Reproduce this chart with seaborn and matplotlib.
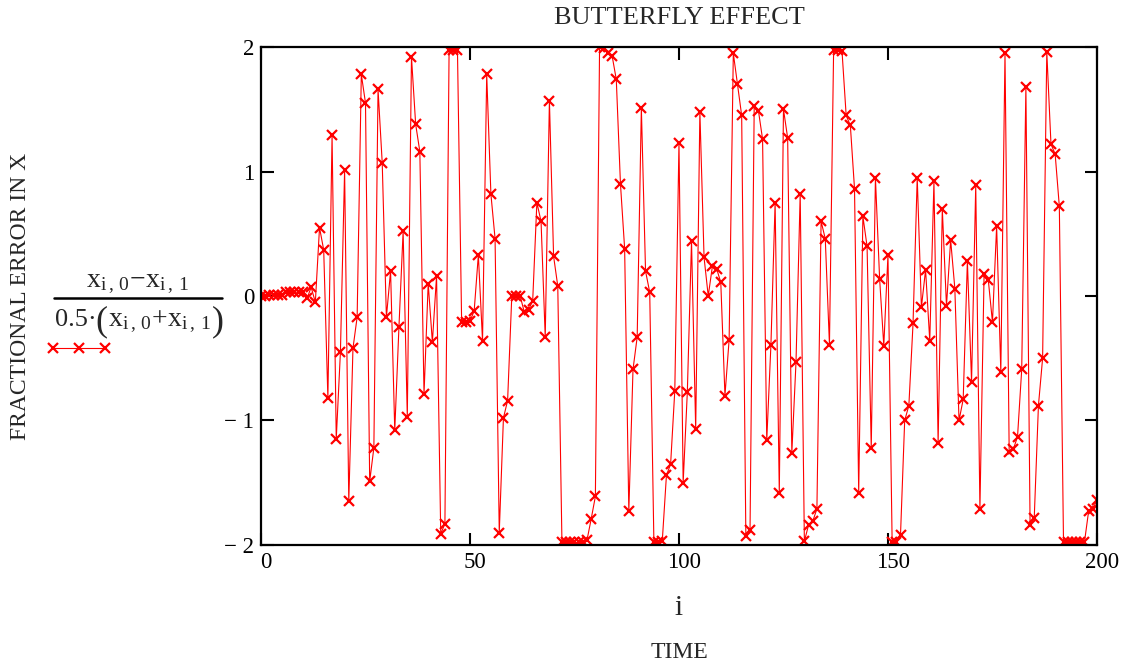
import numpy as np
import pandas as pd
import matplotlib
matplotlib.use('Agg')
import matplotlib.pyplot as plt
import matplotlib.transforms as mtrans
from matplotlib.lines import Line2D
import seaborn as sns

# time index i and the fractional error
steps = np.arange(0, 201)
frac_error = [
    0.00, 0.00, 0.01, 0.01, 0.01, 0.01, 0.03, 0.03, 0.03, 0.03,
    0.03, -0.02, 0.07, -0.05, 0.55, 0.37, -0.82, 1.29, -1.15, -0.45,
    1.01, -1.65, -0.42, -0.17, 1.78, 1.55, -1.49, -1.22, 1.66, 1.07,
    -0.17, 0.20, -1.08, -0.25, 0.52, -0.97, 1.92, 1.38, 1.16, -0.79,
    0.10, -0.37, 0.16, -1.91, -1.83, 1.98, 1.98, 1.98, -0.21, -0.21,
    -0.20, -0.12, 0.33, -0.36, 1.78, 0.82, 0.46, -1.90, -0.98, -0.84,
    0.00, 0.00, 0.00, -0.13, -0.11, -0.04, 0.75, 0.60, -0.33, 1.57,
    0.32, 0.08, -1.98, -1.98, -1.98, -1.98, -1.98, -1.98, -1.96, -1.79,
    -1.61, 2.00, 1.99, 1.95, 1.93, 1.74, 0.90, 0.38, -1.73, -0.59,
    -0.33, 1.51, 0.20, 0.03, -1.98, -1.98, -1.97, -1.44, -1.35, -0.76,
    1.23, -1.50, -0.77, 0.44, -1.07, 1.48, 0.31, 0.00, 0.24, 0.22,
    0.11, -0.80, -0.35, 1.95, 1.70, 1.45, -1.93, -1.88, 1.53, 1.49,
    1.26, -1.16, -0.39, 0.75, -1.58, 1.50, 1.27, -1.26, -0.53, 0.82,
    -1.97, -1.84, -1.81, -1.71, 0.60, 0.46, -0.39, 1.98, 1.98, 1.97,
    1.45, 1.37, 0.86, -1.58, 0.64, 0.40, -1.22, 0.95, 0.14, -0.40,
    0.33, -1.98, -1.98, -1.92, -1.00, -0.88, -0.22, 0.95, -0.09, 0.21,
    -0.36, 0.92, -1.18, 0.70, -0.08, 0.45, 0.06, -1.00, -0.83, 0.28,
    -0.69, 0.89, -1.71, 0.18, 0.13, -0.21, 0.56, -0.61, 1.95, -1.25,
    -1.23, -1.13, -0.59, 1.68, -1.84, -1.78, -0.88, -0.50, 1.96, 1.22,
    1.14, 0.72, -1.98, -1.98, -1.98, -1.98, -1.98, -1.98, -1.73, -1.71,
    -1.64,
]

x_ticks = [0, 50, 100, 150, 200]
y_ticks = [-2, -1, 0, 1, 2]
y_tick_labels = ['\u2212 2', '\u2212 1', '0', '1', '2']

df = pd.DataFrame({'i': steps, 'err': frac_error})

sns.set_style('white')
plt.rcParams['font.family'] = ['Liberation Serif', 'DejaVu Serif']
plt.rcParams['mathtext.fontset'] = 'custom'
plt.rcParams['mathtext.rm'] = 'Liberation Serif'
plt.rcParams['mathtext.it'] = 'Liberation Serif'

W, H = 1126, 666
fig = plt.figure(figsize=(W / 100, H / 100), dpi=100)
ax = fig.add_axes([0.2318, 0.1817, 0.7424, 0.7477])

sns.lineplot(data=df, x='i', y='err', ax=ax, color='red', linewidth=0.8,
             marker='x', markersize=6.5, markeredgewidth=1.6,
             markeredgecolor='red')

ax.set_xlim(0, 200)
ax.set_ylim(-2, 2)
ax.set_xticks(x_ticks)
ax.set_yticks(y_ticks)
ax.set_yticklabels(y_tick_labels)
ax.tick_params(direction='in', length=9, width=1.5, top=True, right=True,
               bottom=True, left=True, labelsize=16.5, colors='black', pad=5)
# tick labels sit slightly right of their ticks in the reference
shift = mtrans.ScaledTranslation(5 / 100, 0, fig.dpi_scale_trans)
for lab in ax.get_xticklabels():
    lab.set_transform(lab.get_transform() + shift)
for s in ax.spines.values():
    s.set_linewidth(1.6)
    s.set_color('black')

ax.set_xlabel('')
ax.set_ylabel('')
fig.text(0.603, 1 - 18 / H, 'BUTTERFLY EFFECT', ha='center', va='center',
         fontsize=19)
fig.text(0.603, 1 - 608 / H, 'i', ha='center', va='center', fontsize=21)
fig.text(0.603, 1 - 653 / H, 'TIME', ha='center', va='center',
         fontsize=17)
fig.text(0.018, 0.555, 'FRACTIONAL ERROR IN X', rotation=90, ha='center',
         va='center', fontsize=17)

# the expression used as the series name
fig.text(137.5 / W, 1 - 287 / H,
         r'$\mathrm{x}_{\mathrm{i}\,,\,0}\!-\!\mathrm{x}_{\mathrm{i}\,,\,1}$',
         ha='center', va='baseline', fontsize=20)
fig.add_artist(Line2D([54 / W, 222 / W], [1 - 297.5 / H, 1 - 297.5 / H],
                      transform=fig.transFigure, color='black', linewidth=1.8))
fig.text(55 / W, 1 - 326 / H, '0.5\u00b7', ha='left', va='baseline',
         fontsize=19)
fig.text(101 / W, 1 - 330 / H, '(', ha='center', va='baseline',
         fontsize=26)
fig.text(108 / W, 1 - 326 / H,
         r'$\mathrm{x}_{\mathrm{i}\,,\,0}\!+\!\mathrm{x}_{\mathrm{i}\,,\,1}$',
         ha='left', va='baseline', fontsize=20)
fig.text(218 / W, 1 - 330 / H, ')', ha='center', va='baseline',
         fontsize=26)

# legend sample under the expression
fig.add_artist(Line2D([53 / W, 79 / W, 105 / W], [1 - 348 / H] * 3,
                      transform=fig.transFigure, color='red', linewidth=0.8,
                      marker='x', markersize=6.5, markeredgewidth=1.6))

fig.savefig('out.png', dpi=100)
